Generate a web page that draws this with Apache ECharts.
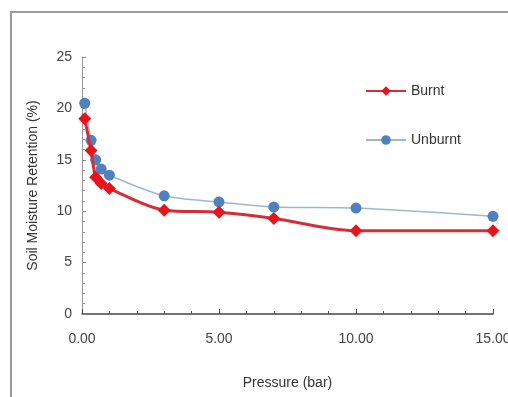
<!DOCTYPE html>
<html><head><meta charset="utf-8">
<script src="https://cdn.jsdelivr.net/npm/echarts@6/dist/echarts.min.js"></script>
<style>html,body{margin:0;padding:0;background:#fff}#c{width:508px;height:397px}</style>
</head><body><div id="c"></div>
<script>
const pressure = [0.1, 0.33, 0.5, 0.7, 1.0, 3, 5, 7, 10, 15];
const burnt = [19.0, 15.9, 13.3, 12.7, 12.2, 10.1, 9.9, 9.3, 8.1, 8.1];
const unburnt = [20.5, 16.9, 15.0, 14.1, 13.5, 11.5, 10.9, 10.4, 10.3, 9.5];
const xTicks = [0, 5, 10, 15];
const yTicks = [0, 5, 10, 15, 20, 25];

const chart = echarts.init(document.getElementById('c'));
const font = 'Liberation Sans, Arial, sans-serif';
chart.setOption({
  animation: false,
  backgroundColor: '#fff',
  graphic: [{
    type: 'rect', shape: {x: 11, y: 12, width: 600, height: 500},
    style: {fill: 'none', stroke: '#9a9a9a', lineWidth: 2}, z: 100
  }],
  grid: {left: 82, right: 15, top: 57, bottom: 83, containLabel: false, outerBoundsMode: 'none'},
  legend: {
    orient: 'vertical', left: 360, top: 79, itemGap: 35,
    itemWidth: 40, itemHeight: 12,
    textStyle: {fontFamily: font, fontSize: 14, color: '#333'},
    data: ['Burnt', 'Unburnt']
  },
  xAxis: {
    type: 'value', min: 0, max: 15, interval: 5,
    name: 'Pressure (bar)', nameLocation: 'middle', nameGap: 62,
    nameTextStyle: {fontFamily: font, fontSize: 14, color: '#333'},
    axisLine: {lineStyle: {color: '#444', width: 1.5}},
    axisTick: {inside: true, length: 5, lineStyle: {color: '#444'}},
    minorTick: {show: true, splitNumber: 5, length: 3, lineStyle: {color: '#555'}},
    splitLine: {show: false},
    axisLabel: {fontFamily: font, fontSize: 14, color: '#444', margin: 18,
      formatter: v => xTicks.includes(v) ? v.toFixed(2) : ''}
  },
  yAxis: {
    type: 'value', min: 0, max: 25, interval: 5,
    name: 'Soil Moisture Retention (%)', nameLocation: 'middle', nameGap: 42,
    nameTextStyle: {fontFamily: font, fontSize: 14, color: '#333'},
    axisLine: {show: true, lineStyle: {color: '#999', width: 1}},
    axisTick: {show: true, inside: true, length: 4, lineStyle: {color: '#888'}},
    minorTick: {show: true, splitNumber: 5, length: 3, lineStyle: {color: '#999'}},
    splitLine: {show: false},
    axisLabel: {fontFamily: font, fontSize: 14, color: '#444', margin: 10,
      formatter: v => yTicks.includes(v) ? String(v) : ''}
  },
  series: [
    {
      name: 'Unburnt', type: 'line', smooth: 0.3,
      data: pressure.map((p, i) => [p, unburnt[i]]),
      symbol: 'circle', symbolSize: 11,
      itemStyle: {color: '#4f81bd'},
      lineStyle: {color: '#9fb8c8', width: 1.5}, z: 2
    },
    {
      name: 'Burnt', type: 'line', smooth: 0.3,
      data: pressure.map((p, i) => [p, burnt[i]]),
      symbol: 'diamond', symbolSize: 13,
      itemStyle: {color: '#e8141c'},
      lineStyle: {color: '#d0303a', width: 3}, z: 3
    }
  ]
});
</script></body></html>
